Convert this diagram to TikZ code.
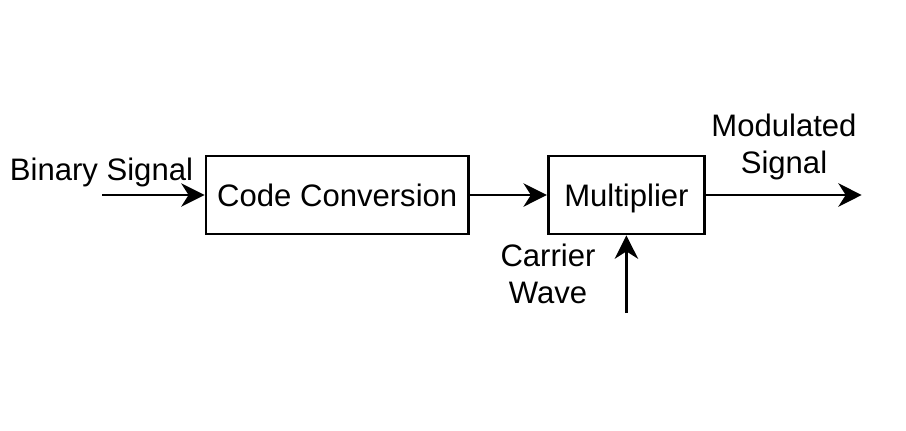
\documentclass[tikz,border=0pt]{standalone}
\usepackage{fontspec}
\setmainfont{Liberation Sans}
\usetikzlibrary{arrows.meta}
\begin{document}
\begin{tikzpicture}[x=0.75pt,y=-0.75pt,
  blockbox/.style={draw=black,line width=2.1pt,fill=white,minimum height=58.5pt,inner sep=0pt,
    text height=17.5pt,text depth=0pt,font=\fontsize{23.3}{27.75}\selectfont},
  lbl/.style={inner sep=0pt,align=center,anchor=base,font=\fontsize{23.3}{27.75}\selectfont},
  conn/.style={line width=2.1pt,-{Stealth[length=17.5pt,width=17.5pt,inset=5.5pt]}}]
\useasboundingbox (0,0) rectangle (906,430);
\fill[white] (0,0) rectangle (906,430);
\node[blockbox,minimum width=196.9pt] (code) at (337.25,195) {Code Conversion};
\node[blockbox,minimum width=117.2pt] (mult) at (626.4,195) {Multiplier};
\coordinate (in) at (102,195);
\coordinate (out) at (861.7,195);
\coordinate (carrier) at (626.4,313);
\draw[conn] (in) -- (code.west);
\draw[conn] (code.east) -- (mult.west);
\draw[conn] (mult.east) -- (out);
\draw[conn] (carrier) -- (mult.south);
\node[lbl] (binlbl) at (101.5,180) {Binary Signal};
\node[lbl] (modlbl) at (784,173) {Modulated\\Signal};
\node[lbl] (carlbl) at (548,303.3) {Carrier\\Wave};
\end{tikzpicture}
\end{document}
